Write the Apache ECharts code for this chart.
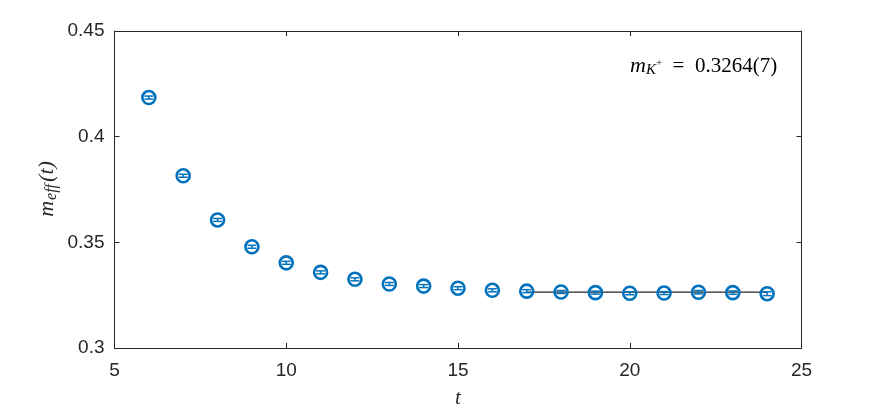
<!DOCTYPE html>
<html><head><meta charset="utf-8">
<script src="https://cdn.jsdelivr.net/npm/echarts@6/dist/echarts.min.js"></script>
<style>html,body{margin:0;padding:0;background:#fff}#c{width:886px;height:413px}</style>
</head><body><div id="c"></div>
<script>
const tValues = [6,7,8,9,10,11,12,13,14,15,16,17,18,19,20,21,22,23,24];
const meff = [0.4185,0.3815,0.3606,0.3479,0.3403,0.3358,0.3325,0.3303,0.3293,0.3283,0.3273,0.3269,0.3265,0.3262,0.3259,0.3260,0.3264,0.3262,0.3257];
const meffErr = [0.0007,0.0007,0.0007,0.0007,0.0007,0.0007,0.0007,0.0007,0.0007,0.0007,0.0007,0.0007,0.0007,0.0007,0.0007,0.0007,0.0008,0.0008,0.0009];
const fitRange = [17,24];
const fitValue = 0.3264;
const xTicks = [5,10,15,20,25];
const yTicks = [0.3,0.35,0.4,0.45];
const annotation = '0.3264(7)';

const chart = echarts.init(document.getElementById('c'));
const blue = '#0072BD';
const pts = tValues.map((t,i)=>[t, meff[i], meffErr[i]]);
const tickLabel = {color:'#262626', fontFamily:'Liberation Sans, Arial, sans-serif', fontSize:19};
const axLine = {lineStyle:{color:'#262626', width:1}};
chart.setOption({
  animation:false,
  grid:{left:114.5, right:84.5, top:31, bottom:65, show:false},
  xAxis:[
    {type:'value', min:5, max:25, interval:5, position:'bottom', axisLine:axLine,
     axisTick:{inside:true, length:5, lineStyle:{color:'#262626'}}, splitLine:{show:false},
     axisLabel:Object.assign({margin:13, formatter:v=>String(v)}, tickLabel)},
    {type:'value', min:5, max:25, interval:5, position:'top', axisLine:axLine,
     axisTick:{inside:true, length:5, lineStyle:{color:'#262626'}}, splitLine:{show:false}, axisLabel:{show:false}}
  ],
  yAxis:[
    {type:'value', min:0.3, max:0.45, interval:0.05, position:'left', axisLine:axLine,
     axisTick:{inside:true, length:5, lineStyle:{color:'#262626'}}, splitLine:{show:false},
     axisLabel:Object.assign({margin:10, formatter:v=>String(+v.toFixed(2))}, tickLabel)},
    {type:'value', min:0.3, max:0.45, interval:0.05, position:'right', axisLine:axLine,
     axisTick:{inside:true, length:5, lineStyle:{color:'#262626'}}, splitLine:{show:false}, axisLabel:{show:false}}
  ],
  graphic:[
    {type:'text', x:458, y:398, style:{text:'t', align:'center', verticalAlign:'middle', font:'italic 21px "Liberation Serif", serif', fill:'#262626'}},
    {type:'text', x:47, y:189, rotation:Math.PI/2, style:{
      text:'{m|m}{s|eff}{p|(t)}', align:'center', verticalAlign:'middle',
      rich:{m:{font:'italic 22px "Liberation Serif", serif', fill:'#262626', verticalAlign:'middle'},
            s:{font:'italic 16px "Liberation Serif", serif', fill:'#262626', padding:[10,0,0,1], verticalAlign:'middle'},
            p:{font:'italic 22px "Liberation Serif", serif', fill:'#262626', verticalAlign:'middle', padding:[0,0,0,2]}}}},
    {type:'text', x:630, y:54, style:{
      text:'{m|m}{k|K}{sup|+}{eq|  =  0.3264(7)}',
      rich:{m:{font:'italic 22px "Liberation Serif", serif', fill:'#000'},
            k:{font:'italic 15px "Liberation Serif", serif', fill:'#000', padding:[9,0,0,0]},
            sup:{font:'11px "Liberation Serif", serif', fill:'#000', padding:[0,0,6,0]},
            eq:{font:'21px "Liberation Serif", serif', fill:'#000'}}}}
  ],
  series:[
    {type:'line', data:[[fitRange[0],fitValue],[fitRange[1],fitValue]], symbol:'none',
     lineStyle:{color:'#262626', width:1.2}, z:1},
    {type:'custom', z:3, data:pts, renderItem:(params, api)=>{
      const x = api.value(0), y = api.value(1), e = api.value(2);
      const p0 = api.coord([x, y-e]), p1 = api.coord([x, y+e]);
      const c = 4.5;
      const st = {stroke:blue, lineWidth:1.5};
      return {type:'group', children:[
        {type:'line', shape:{x1:p0[0],y1:p0[1],x2:p1[0],y2:p1[1]}, style:st},
        {type:'line', shape:{x1:p0[0]-c,y1:p0[1],x2:p0[0]+c,y2:p0[1]}, style:st},
        {type:'line', shape:{x1:p1[0]-c,y1:p1[1],x2:p1[0]+c,y2:p1[1]}, style:st}
      ]};
    }},
    {type:'scatter', z:4, data:pts.map(p=>[p[0],p[1]]), symbol:'circle', symbolSize:13,
     itemStyle:{color:'rgba(0,0,0,0)', borderColor:blue, borderWidth:2.6, opacity:1}}
  ]
});
</script></body></html>
